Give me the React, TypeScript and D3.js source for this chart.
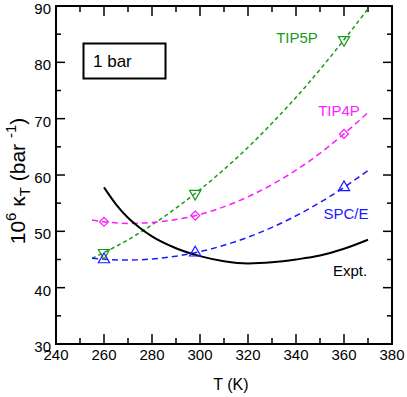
import React, { useEffect, useRef } from 'react'
import * as d3 from 'd3'

// temperature grid (K) used for the fitted model curves
const curveT = [255, 270, 285, 300, 315, 330, 345, 360, 370]
const tip5pCurve = [45.2, 48.5, 52.6, 57.4, 62.9, 69.2, 76.2, 84.0, 89.5]
const tip4pCurve = [52.0, 51.4, 51.8, 53.0, 55.2, 58.3, 62.3, 67.3, 71.1]
const spceCurve = [45.2, 44.9, 45.3, 46.4, 48.2, 50.7, 53.9, 57.8, 60.8]

// simulation points
const simT = [260, 298, 360]
const tip5pPts = [46.2, 56.7, 84.0]
const tip4pPts = [51.7, 52.8, 67.3]
const spcePts = [45.0, 46.2, 57.8]

// experiment
const exptT = [260, 265, 270, 275, 280, 290, 300, 310, 320, 330, 340, 350, 360, 370]
const exptK = [57.8, 54.8, 52.4, 50.6, 49.1, 47.0, 45.6, 44.7, 44.3, 44.5, 45.0, 45.7, 46.9, 48.5]

const xTicks = [240, 260, 280, 300, 320, 340, 360, 380]
const yTicks = [30, 40, 50, 60, 70, 80, 90]

const GREEN = '#1a9a1a'
const MAGENTA = '#ff1aff'
const BLUE = '#1a1aff'

const App = () => {
  const svgRef = useRef(null)

  useEffect(() => {
    document.body.style.margin = '0'
    const width = 407
    const height = 397
    const left = 56, right = 392, top = 6, bottom = 344

    const svg = d3.select(svgRef.current)
    svg.selectAll('*').remove()
    svg.attr('width', width).attr('height', height)
      .style('font-family', '"Liberation Sans", Arial, sans-serif')

    const x = d3.scaleLinear().domain([240, 380]).range([left, right])
    const y = d3.scaleLinear().domain([30, 90]).range([bottom, top])

    // ticks (inward, on all four sides)
    const minorX = d3.range(250, 380, 20)
    const minorY = d3.range(35, 90, 10)
    const tk = svg.append('g').attr('stroke', '#000').attr('stroke-width', 1.5)
    xTicks.slice(1, -1).forEach(t => {
      tk.append('line').attr('x1', x(t)).attr('x2', x(t)).attr('y1', bottom).attr('y2', bottom - 10)
      tk.append('line').attr('x1', x(t)).attr('x2', x(t)).attr('y1', top).attr('y2', top + 10)
    })
    minorX.forEach(t => {
      tk.append('line').attr('x1', x(t)).attr('x2', x(t)).attr('y1', bottom).attr('y2', bottom - 6)
      tk.append('line').attr('x1', x(t)).attr('x2', x(t)).attr('y1', top).attr('y2', top + 6)
    })
    yTicks.slice(1, -1).forEach(t => {
      tk.append('line').attr('y1', y(t)).attr('y2', y(t)).attr('x1', left).attr('x2', left + 9)
      tk.append('line').attr('y1', y(t)).attr('y2', y(t)).attr('x1', right).attr('x2', right - 9)
    })
    minorY.forEach(t => {
      tk.append('line').attr('y1', y(t)).attr('y2', y(t)).attr('x1', left).attr('x2', left + 5)
      tk.append('line').attr('y1', y(t)).attr('y2', y(t)).attr('x1', right).attr('x2', right - 5)
    })

    // tick labels
    svg.append('g').selectAll('text').data(xTicks).join('text')
      .attr('x', d => x(d)).attr('y', bottom + 16)
      .attr('text-anchor', 'middle').style('font-size', '15px')
      .text(d => d)
    svg.append('g').selectAll('text').data(yTicks).join('text')
      .attr('x', left - 5).attr('y', d => y(d) + 8)
      .attr('text-anchor', 'end').style('font-size', '15px')
      .text(d => d)

    // axis titles
    svg.append('text').attr('x', 231).attr('y', 390)
      .attr('text-anchor', 'middle').style('font-size', '16px').text('T (K)')
    const yt = svg.append('text')
      .attr('transform', 'translate(25,181) rotate(-90)')
      .attr('text-anchor', 'middle').style('font-size', '21px')
    yt.append('tspan').text('10')
    yt.append('tspan').attr('dy', -9).style('font-size', '15px').text('6')
    yt.append('tspan').attr('dy', 9).text(' κ')
    yt.append('tspan').attr('dy', 5).style('font-size', '15px').text('T')
    yt.append('tspan').attr('dy', -5).text(' (bar ')
    yt.append('tspan').attr('dy', -9).style('font-size', '15px').text(' -1')
    yt.append('tspan').attr('dy', 9).text(')')

    const line = d3.line().curve(d3.curveMonotoneX)

    const drawCurve = (ts, ks, color, dash) => {
      svg.append('path')
        .attr('d', line(ts.map((t, i) => [x(t), y(ks[i])])))
        .attr('fill', 'none').attr('stroke', color)
        .attr('stroke-width', 1.5).attr('stroke-dasharray', dash)
    }
    drawCurve(curveT, tip5pCurve, GREEN, '4,3')
    drawCurve(curveT, tip4pCurve, MAGENTA, '6,4')
    drawCurve(curveT, spceCurve, BLUE, '6,4')

    svg.append('path')
      .attr('d', line(exptT.map((t, i) => [x(t), y(exptK[i])])))
      .attr('fill', 'none').attr('stroke', '#000').attr('stroke-width', 2)

    // markers
    const tri = d3.symbol().type(d3.symbolTriangle).size(55)
    const diamond = d3.symbol().type(d3.symbolSquare).size(40)
    svg.append('g').selectAll('path').data(simT).join('path')
      .attr('d', tri())
      .attr('transform', (d, i) => `translate(${x(d)},${y(tip5pPts[i])}) rotate(180)`)
      .attr('fill', 'none').attr('stroke', GREEN).attr('stroke-width', 1.2)
    svg.append('g').selectAll('path').data(simT).join('path')
      .attr('d', diamond())
      .attr('transform', (d, i) => `translate(${x(d)},${y(tip4pPts[i])}) rotate(45)`)
      .attr('fill', 'none').attr('stroke', MAGENTA).attr('stroke-width', 1.2)
    svg.append('g').selectAll('path').data(simT).join('path')
      .attr('d', tri())
      .attr('transform', (d, i) => `translate(${x(d)},${y(spcePts[i])})`)
      .attr('fill', 'none').attr('stroke', BLUE).attr('stroke-width', 1.2)

    // series labels
    const lab = (txt, cx, cy, color) => {
      svg.append('text').attr('x', cx).attr('y', cy).attr('text-anchor', 'middle')
        .style('font-size', '15px').attr('fill', color).text(txt)
    }
    lab('TIP5P', 297, 43, GREEN)
    lab('TIP4P', 339, 116, MAGENTA)
    lab('SPC/E', 346, 219, BLUE)
    lab('Expt.', 350, 276, '#000')

    // frame
    svg.append('rect').attr('x', left).attr('y', top)
      .attr('width', right - left).attr('height', bottom - top)
      .attr('fill', 'none').attr('stroke', '#000').attr('stroke-width', 2)

    // legend box
    svg.append('rect').attr('x', 83.5).attr('y', 43.5).attr('width', 82).attr('height', 35)
      .attr('fill', 'none').attr('stroke', '#000').attr('stroke-width', 2)
    svg.append('text').attr('x', 93).attr('y', 67).style('font-size', '17px').text('1 bar')
  }, [])

  return <svg ref={svgRef}></svg>
}

export default App
